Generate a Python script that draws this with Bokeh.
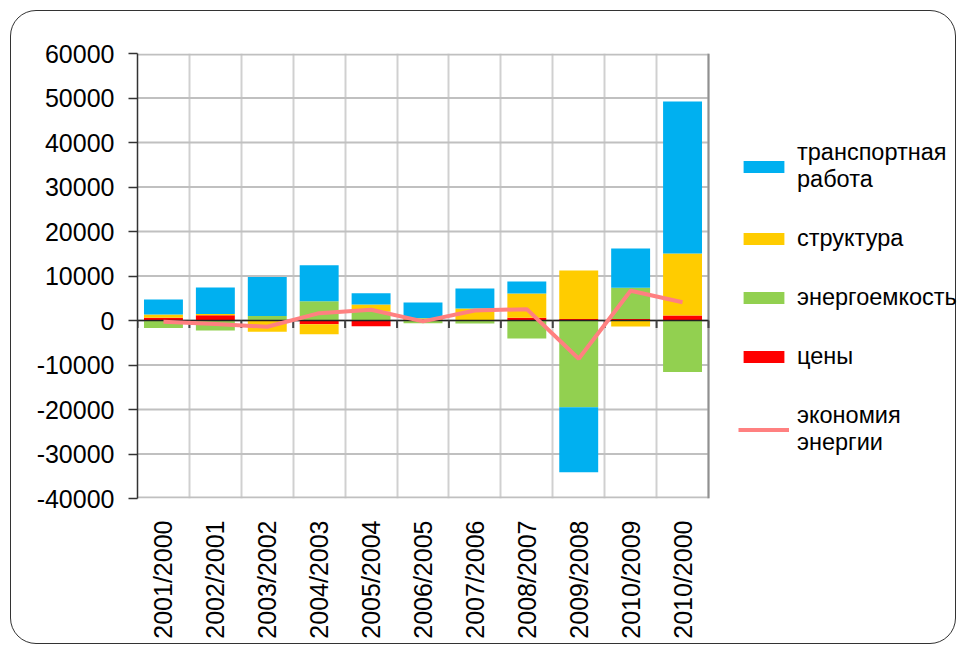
import numpy as np
from bokeh.plotting import figure
from bokeh.models import (FixedTicker, Legend, LegendItem, NumeralTickFormatter, Range1d)
from bokeh.embed import file_html
from bokeh.resources import INLINE

categories = ["2001/2000", "2002/2001", "2003/2002", "2004/2003", "2005/2004", "2006/2005",
              "2007/2006", "2008/2007", "2009/2008", "2010/2009", "2010/2000"]
# series values (stack order: prices, energy intensity, structure, transport work)
prices = [600, 1200, 0, -850, -1300, 200, 100, 600, 350, 350, 1100]
energy_intensity = [-1700, -2250, 1000, 4350, 2000, -600, -650, -4050, -19500, 7000, -11600]
structure = [750, 250, -2500, -2250, 1600, 300, 2600, 5450, 10900, -1350, 13950]
transport_work = [3350, 5950, 8800, 8050, 2500, 3550, 4500, 2700, -14600, 8850, 34150]
energy_saving = [-300, -800, -1400, 1650, 2400, -200, 2250, 2550, -8600, 6700, 4100]
y_ticks = [-40000, -30000, -20000, -10000, 0, 10000, 20000, 30000, 40000, 50000, 60000]

series = [
    ("цены", prices, "#FF0000"),
    ("энергоемкость", energy_intensity, "#92D050"),
    ("структура", structure, "#FFCC00"),
    ("транспортная\nработа", transport_work, "#00B0F0"),
]

FONT = "Liberation Sans"
n = len(categories)
x = np.arange(n)
bounds = np.arange(n + 1) - 0.5

# layout (pixels)
W, H = 946, 634
LEFT, TOP, BOTTOM = 126, 42, 147
PLOT_W, PLOT_H = 571, 445         # size of the chart's plot area
FRAME_W = W - LEFT                # frame extends under the legend
x_end = -0.5 + n * FRAME_W / PLOT_W
px_y = (y_ticks[-1] - y_ticks[0]) / PLOT_H   # data units per pixel (y)

p = figure(width=W, height=H, output_backend="svg", toolbar_location=None,
           x_range=Range1d(-0.5, x_end), y_range=Range1d(y_ticks[0], y_ticks[-1]),
           min_border_left=LEFT, min_border_top=TOP, min_border_right=0, min_border_bottom=BOTTOM)
p.styles = {"border": "1.5px solid #333333", "border-radius": "26px",
            "margin-left": "10px", "margin-top": "10px"}
p.border_fill_color = None
p.background_fill_color = None
p.outline_line_color = None
p.ygrid.visible = False

x_lo, x_hi = float(bounds[0]), float(bounds[-1])
y_lo, y_hi = float(y_ticks[0]), float(y_ticks[-1])

# horizontal gridlines of the plot area (thin filled bands, 2 px)
grid_h = np.where(np.isin(y_ticks, [y_lo, y_hi]), 4 * px_y, 2 * px_y)
p.hbar(y=np.array(y_ticks, dtype=float), left=x_lo, right=x_hi, height=grid_h,
       fill_color="#c0c0c0", line_color=None)

# stacked bars, positive and negative stacked separately
pos_base = np.zeros(n)
neg_base = np.zeros(n)
renderers = {}
for name, vals, color in series:
    v = np.array(vals, dtype=float)
    bottom = np.where(v >= 0, pos_base, neg_base)
    top = bottom + v
    pos_base = np.where(v >= 0, top, pos_base)
    neg_base = np.where(v < 0, top, neg_base)
    r = p.vbar(x=x, bottom=bottom, top=top, width=0.75, fill_color=color, line_color=None)
    renderers[name] = r

# right edge of the plot area
p.segment(x0=[x_hi], y0=[y_lo], x1=[x_hi], y1=[y_hi], line_color="#909090", line_width=2)
# category axis line at zero with tick marks
p.segment(x0=[x_lo], y0=[0], x1=[x_hi], y1=[0], line_color="#222222", line_width=1.5)
p.segment(x0=bounds, y0=np.zeros(n + 1), x1=bounds, y1=np.full(n + 1, -1700),
          line_color="#444444", line_width=2)

line_r = p.line(x=x, y=energy_saving, line_color="#FF8080", line_width=4)

# axes
p.yaxis.ticker = FixedTicker(ticks=y_ticks)
p.yaxis.formatter = NumeralTickFormatter(format="0")
p.yaxis.major_label_text_font = FONT
p.yaxis.major_label_text_font_size = "25px"
p.yaxis.major_label_text_color = "black"
p.yaxis.axis_line_color = "#333333"
p.yaxis.axis_line_width = 1.5
p.yaxis.major_tick_line_color = "#333333"
p.yaxis.major_tick_line_width = 1.5
p.yaxis.major_tick_in = 0
p.yaxis.major_tick_out = 9
p.yaxis.minor_tick_line_color = None
p.yaxis.major_label_standoff = 14

p.xaxis.ticker = FixedTicker(ticks=list(x))
p.xaxis.major_label_overrides = {int(i): c for i, c in zip(x, categories)}
p.xaxis.major_label_orientation = np.pi / 2
p.xaxis.major_label_text_font = FONT
p.xaxis.major_label_text_font_size = "25px"
p.xaxis.major_label_text_color = "black"
p.xaxis.axis_line_color = None
p.xaxis.major_tick_line_color = None
p.xaxis.minor_tick_line_color = None
p.xaxis.major_tick_out = 0
p.xaxis.major_tick_in = 0
p.xaxis.major_label_standoff = 22

p.xgrid.ticker = FixedTicker(ticks=list(bounds))
p.xgrid.grid_line_color = "#d0d0d0"
p.xgrid.grid_line_width = 2

items = [
    LegendItem(label="транспортная\nработа", renderers=[renderers["транспортная\nработа"]]),
    LegendItem(label="структура", renderers=[renderers["структура"]]),
    LegendItem(label="энергоемкость", renderers=[renderers["энергоемкость"]]),
    LegendItem(label="цены", renderers=[renderers["цены"]]),
    LegendItem(label="экономия\nэнергии", renderers=[line_r]),
]
legend = Legend(items=items, location=(PLOT_W + 30, 42), padding=0, margin=0, spacing=32,
                glyph_width=51, glyph_height=15, label_standoff=8,
                label_text_font=FONT, label_text_font_size="23.5px", label_text_color="black",
                label_text_line_height=1.24,
                border_line_color=None, background_fill_alpha=0)
p.add_layout(legend)

open("out.html", "w").write(file_html(p, INLINE))
